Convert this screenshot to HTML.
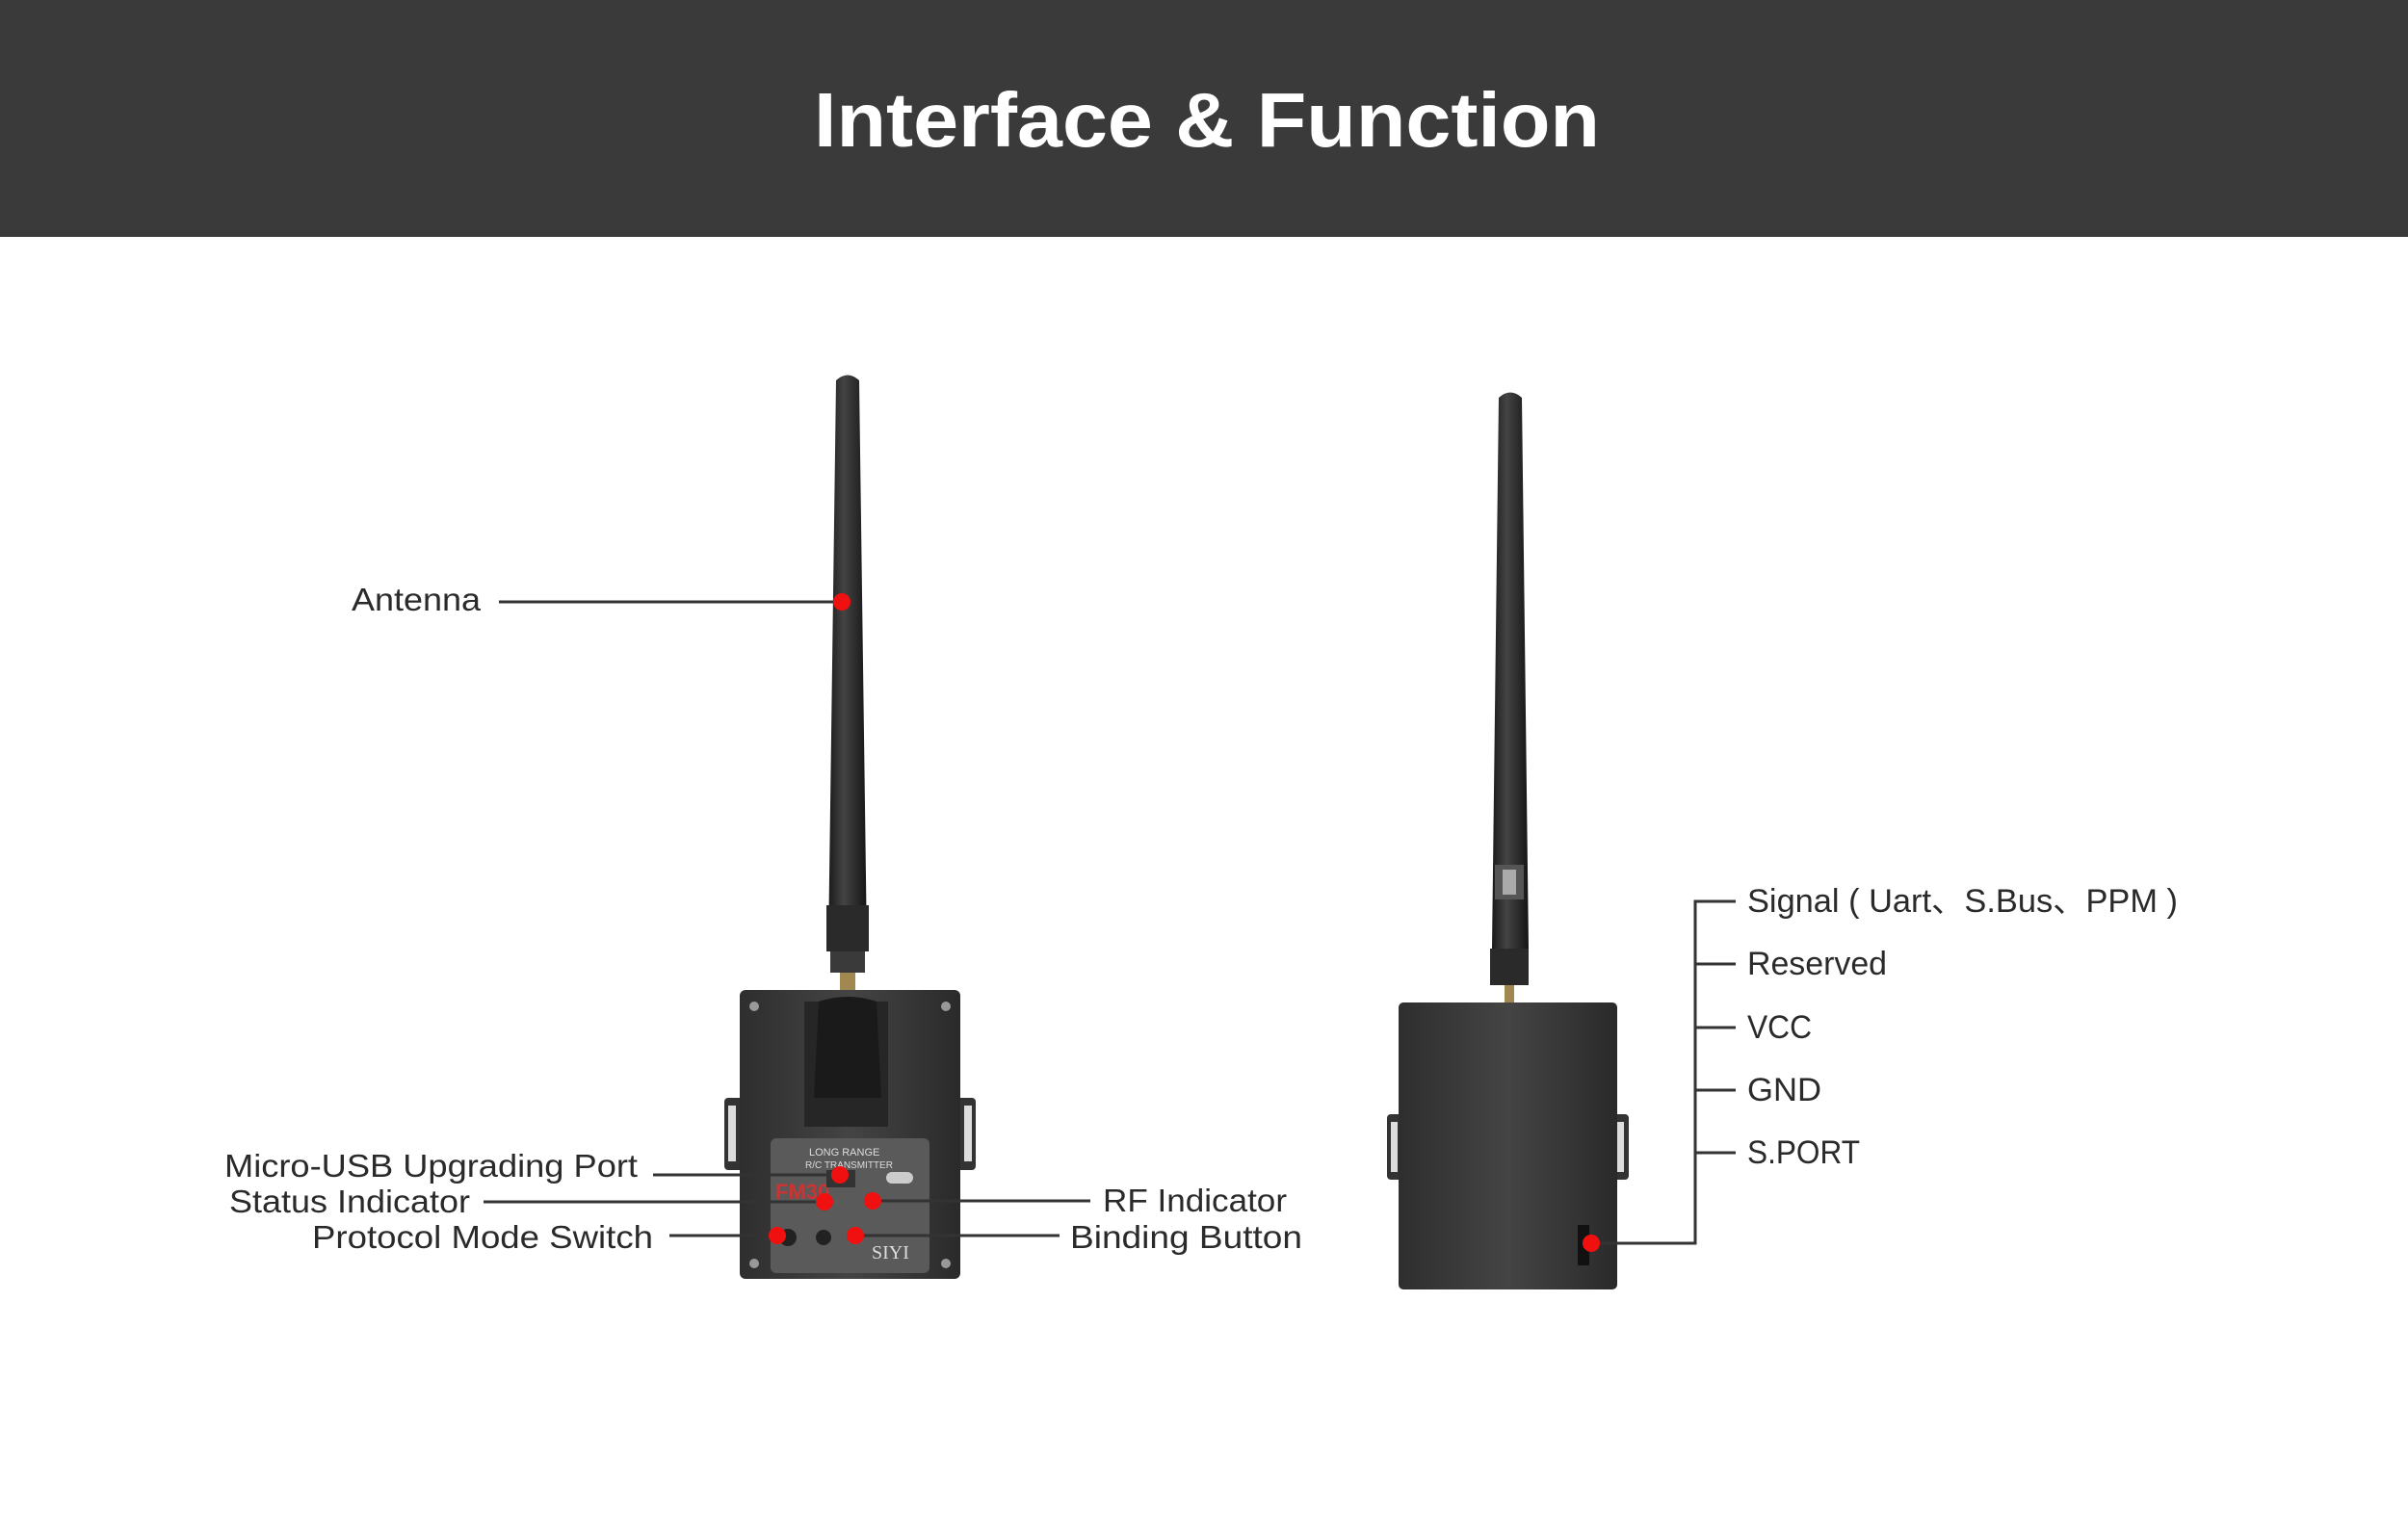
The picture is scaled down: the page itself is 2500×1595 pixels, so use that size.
<!DOCTYPE html>
<html><head><meta charset="utf-8"><style>
html,body{margin:0;padding:0;background:#fff;}
svg{display:block;}
text{font-family:"Liberation Sans","Noto Sans CJK SC",sans-serif;fill:#2a2a2a;}
</style></head><body>
<svg width="2500" height="1595" viewBox="0 0 2500 1595" xmlns="http://www.w3.org/2000/svg">
<defs>
<linearGradient id="ant" x1="0" x2="1" y1="0" y2="0">
<stop offset="0" stop-color="#1a1a1a"/><stop offset="0.4" stop-color="#444"/><stop offset="1" stop-color="#151515"/>
</linearGradient>
<linearGradient id="box" x1="0" x2="1" y1="0" y2="0">
<stop offset="0" stop-color="#2e2e2e"/><stop offset="0.5" stop-color="#444"/><stop offset="1" stop-color="#2a2a2a"/>
</linearGradient>
</defs>
<rect x="0" y="0" width="2500" height="246" fill="#3b3a3a"/>
<text x="1253" y="152" text-anchor="middle" font-size="80" font-weight="bold" style="fill:#fff" textLength="816" lengthAdjust="spacingAndGlyphs">Interface &amp; Function</text>

<!-- Left device -->
<path d="M868 395 Q880 384 892 395 L900 985 L860 985 Z" fill="url(#ant)"/>
<rect x="858" y="940" width="44" height="48" fill="#2a2a2a"/>
<rect x="862" y="988" width="36" height="22" fill="#3a3a3a"/>
<rect x="872" y="1010" width="16" height="20" fill="#a08850"/>
<rect x="752" y="1140" width="20" height="75" rx="4" fill="#333"/>
<rect x="756" y="1148" width="8" height="58" fill="#ddd"/>
<rect x="993" y="1140" width="20" height="75" rx="4" fill="#333"/>
<rect x="1001" y="1148" width="8" height="58" fill="#ddd"/>
<rect x="768" y="1028" width="229" height="300" rx="6" fill="url(#box)"/>
<path d="M835 1040 L922 1040 L922 1170 L835 1170 Z" fill="#262626"/>
<path d="M850 1040 Q880 1030 910 1040 L915 1140 L845 1140 Z" fill="#1a1a1a"/>
<circle cx="783" cy="1045" r="5" fill="#999"/><circle cx="982" cy="1045" r="5" fill="#999"/>
<circle cx="783" cy="1312" r="5" fill="#999"/><circle cx="982" cy="1312" r="5" fill="#999"/>
<rect x="800" y="1182" width="165" height="140" rx="6" fill="#5a5a5a"/>
<text x="840" y="1200" font-size="11" style="fill:#ddd">LONG RANGE</text>
<text x="836" y="1213" font-size="10" style="fill:#ddd">R/C TRANSMITTER</text>
<text x="805" y="1245" font-size="22" font-weight="bold" style="fill:#c33">FM30</text>
<text x="905" y="1307" font-size="20" style="fill:#ddd;font-family:'Liberation Serif',serif">SIYI</text>
<rect x="920" y="1217" width="28" height="12" rx="6" fill="#ccc"/>
<rect x="858" y="1215" width="30" height="18" fill="#333"/>
<circle cx="855" cy="1285" r="8" fill="#222"/>
<circle cx="818" cy="1285" r="9" fill="#222"/>

<!-- Left connectors -->
<g stroke="#333" stroke-width="3">
<line x1="518" y1="625" x2="874" y2="625"/>
<line x1="678" y1="1220" x2="872" y2="1220"/>
<line x1="502" y1="1248" x2="856" y2="1248"/>
<line x1="695" y1="1283" x2="807" y2="1283"/>
<line x1="906" y1="1247" x2="1132" y2="1247"/>
<line x1="888" y1="1283" x2="1100" y2="1283"/>
</g>
<g fill="#f01010">
<circle cx="874" cy="625" r="9"/>
<circle cx="872" cy="1220" r="9"/>
<circle cx="856" cy="1248" r="9"/>
<circle cx="807" cy="1283" r="9"/>
<circle cx="906" cy="1247" r="9"/>
<circle cx="888" cy="1283" r="9"/>
</g>
<g font-size="33">
<text x="365" y="634" textLength="134" lengthAdjust="spacingAndGlyphs">Antenna</text>
<text x="233" y="1222" textLength="429" lengthAdjust="spacingAndGlyphs">Micro-USB Upgrading Port</text>
<text x="238" y="1259" textLength="250" lengthAdjust="spacingAndGlyphs">Status Indicator</text>
<text x="324" y="1296" textLength="354" lengthAdjust="spacingAndGlyphs">Protocol Mode Switch</text>
<text x="1145" y="1258" textLength="191" lengthAdjust="spacingAndGlyphs">RF Indicator</text>
<text x="1111" y="1296" textLength="241" lengthAdjust="spacingAndGlyphs">Binding Button</text>
</g>

<!-- Right device -->
<path d="M1556 413 Q1568 402 1580 413 L1587 985 L1549 985 Z" fill="url(#ant)"/>
<rect x="1552" y="898" width="30" height="36" fill="#555"/>
<rect x="1560" y="903" width="14" height="26" fill="#aaa"/>
<rect x="1547" y="985" width="40" height="38" fill="#2a2a2a"/>
<rect x="1562" y="1023" width="10" height="18" fill="#a08850"/>
<rect x="1440" y="1157" width="20" height="68" rx="4" fill="#333"/>
<rect x="1444" y="1165" width="7" height="52" fill="#ddd"/>
<rect x="1671" y="1157" width="20" height="68" rx="4" fill="#333"/>
<rect x="1679" y="1165" width="7" height="52" fill="#ddd"/>
<rect x="1452" y="1041" width="227" height="298" rx="5" fill="url(#box)"/>
<rect x="1638" y="1272" width="12" height="42" fill="#111"/>
<g stroke="#333" stroke-width="3" fill="none">
<polyline points="1652,1291 1760,1291 1760,936 1802,936"/>
<line x1="1760" y1="1001" x2="1802" y2="1001"/>
<line x1="1760" y1="1067" x2="1802" y2="1067"/>
<line x1="1760" y1="1132" x2="1802" y2="1132"/>
<line x1="1760" y1="1197" x2="1802" y2="1197"/>
</g>
<circle cx="1652" cy="1291" r="9" fill="#f01010"/>
<g font-size="34">
<text x="1814" y="947" textLength="447" lengthAdjust="spacingAndGlyphs">Signal ( Uart、S.Bus、PPM )</text>
<text x="1814" y="1012" textLength="145" lengthAdjust="spacingAndGlyphs">Reserved</text>
<text x="1814" y="1078" textLength="67" lengthAdjust="spacingAndGlyphs">VCC</text>
<text x="1814" y="1143" textLength="77" lengthAdjust="spacingAndGlyphs">GND</text>
<text x="1814" y="1208" textLength="117" lengthAdjust="spacingAndGlyphs">S.PORT</text>
</g>
</svg>
</body></html>
